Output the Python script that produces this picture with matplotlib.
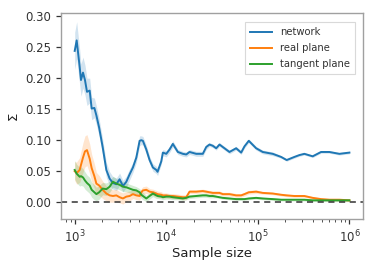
import numpy as np
import matplotlib
matplotlib.use("Agg")
import matplotlib.pyplot as plt

sample_size = [1000, 1051, 1134, 1171, 1232, 1295, 1362, 1458, 1532, 1640,
               1725, 1850, 2020, 2216, 2408, 2617, 2850, 3095, 3363, 3663,
               3980, 4324, 4709, 5114, 5338, 5556, 6051, 6574, 7143, 7781,
               8037, 8822, 9182, 10000, 10860, 11800, 13380, 15170, 16520, 17950,
               21230, 25060, 27300, 29650, 32210, 35090, 38120, 41420, 48980, 57940,
               65700, 71400, 79600, 95800, 113000, 145400, 179500, 206500, 250600, 284200,
               322200, 396900, 490000, 603700, 776200, 1000000]

network = [0.244, 0.261, 0.218, 0.197, 0.209, 0.197, 0.178, 0.180, 0.151, 0.152,
           0.140, 0.120, 0.089, 0.052, 0.038, 0.031, 0.029, 0.037, 0.026, 0.033,
           0.045, 0.056, 0.072, 0.099, 0.100, 0.099, 0.085, 0.068, 0.056, 0.052,
           0.049, 0.066, 0.080, 0.078, 0.085, 0.094, 0.081, 0.078, 0.077, 0.081,
           0.078, 0.078, 0.089, 0.093, 0.091, 0.087, 0.093, 0.089, 0.081, 0.087,
           0.080, 0.090, 0.099, 0.087, 0.081, 0.078, 0.073, 0.068, 0.073, 0.076,
           0.078, 0.074, 0.081, 0.081, 0.078, 0.080]

real_plane = [0.050, 0.047, 0.052, 0.060, 0.072, 0.082, 0.084, 0.070, 0.055, 0.042,
              0.030, 0.027, 0.020, 0.014, 0.011, 0.010, 0.011, 0.008, 0.006, 0.009,
              0.010, 0.013, 0.011, 0.010, 0.016, 0.019, 0.020, 0.017, 0.016, 0.014,
              0.013, 0.012, 0.011, 0.011, 0.010, 0.010, 0.009, 0.008, 0.008, 0.017,
              0.017, 0.018, 0.017, 0.016, 0.015, 0.015, 0.015, 0.013, 0.013, 0.011,
              0.011, 0.013, 0.016, 0.017, 0.015, 0.014, 0.012, 0.011, 0.010, 0.010,
              0.010, 0.007, 0.005, 0.004, 0.004, 0.003]

tangent_plane = [0.052, 0.046, 0.041, 0.042, 0.040, 0.035, 0.031, 0.027, 0.020, 0.016,
                 0.013, 0.016, 0.022, 0.021, 0.025, 0.033, 0.030, 0.028, 0.025, 0.024,
                 0.022, 0.020, 0.019, 0.016, 0.012, 0.010, 0.006, 0.010, 0.014, 0.011,
                 0.010, 0.009, 0.008, 0.009, 0.009, 0.008, 0.007, 0.006, 0.007, 0.009,
                 0.010, 0.011, 0.011, 0.010, 0.010, 0.009, 0.008, 0.007, 0.006, 0.005,
                 0.005, 0.005, 0.006, 0.007, 0.006, 0.005, 0.004, 0.004, 0.004, 0.004,
                 0.004, 0.003, 0.003, 0.003, 0.003, 0.003]

network_err = [0.030, 0.030, 0.028, 0.026, 0.025, 0.024, 0.022, 0.020, 0.018, 0.016,
               0.015, 0.014, 0.013, 0.012, 0.011, 0.010, 0.010, 0.010, 0.009, 0.009,
               0.009, 0.008, 0.008, 0.008, 0.007, 0.007, 0.007, 0.006, 0.006, 0.006,
               0.006, 0.005, 0.005, 0.005, 0.005, 0.005, 0.004, 0.004, 0.004, 0.004,
               0.004, 0.004, 0.004, 0.003, 0.003, 0.003, 0.003, 0.003, 0.003, 0.003,
               0.003, 0.003, 0.003, 0.003, 0.003, 0.003, 0.002, 0.002, 0.002, 0.002,
               0.002, 0.002, 0.002, 0.002, 0.002, 0.002]

real_err = [0.015, 0.018, 0.020, 0.022, 0.024, 0.025, 0.025, 0.024, 0.022, 0.020,
            0.018, 0.016, 0.014, 0.012, 0.011, 0.010, 0.010, 0.009, 0.009, 0.008,
            0.008, 0.007, 0.007, 0.007, 0.006, 0.006, 0.006, 0.005, 0.005, 0.005,
            0.005, 0.005, 0.004, 0.004, 0.004, 0.004, 0.004, 0.004, 0.004, 0.003,
            0.003, 0.003, 0.003, 0.003, 0.003, 0.003, 0.003, 0.003, 0.003, 0.003,
            0.003, 0.003, 0.003, 0.003, 0.002, 0.002, 0.002, 0.002, 0.002, 0.002,
            0.002, 0.002, 0.002, 0.002, 0.002, 0.002]

tangent_err = [0.015, 0.015, 0.015, 0.015, 0.014, 0.014, 0.013, 0.013, 0.012, 0.012,
               0.011, 0.011, 0.010, 0.010, 0.009, 0.009, 0.008, 0.008, 0.008, 0.007,
               0.007, 0.007, 0.006, 0.006, 0.006, 0.006, 0.005, 0.005, 0.005, 0.005,
               0.004, 0.004, 0.004, 0.004, 0.004, 0.004, 0.003, 0.003, 0.003, 0.003,
               0.003, 0.003, 0.003, 0.003, 0.003, 0.002, 0.002, 0.002, 0.002, 0.002,
               0.002, 0.002, 0.002, 0.002, 0.002, 0.002, 0.002, 0.002, 0.002, 0.002,
               0.002, 0.002, 0.002, 0.002, 0.002, 0.002]

labels = ["network", "real plane", "tangent plane"]
colors = ["#1f77b4", "#ff7f0e", "#2ca02c"]

fig = plt.figure(figsize=(3.74, 2.67), dpi=100)
ax = fig.add_axes([0.163, 0.180, 0.808, 0.771])

x = np.array(sample_size)
for vals, errs, lab, col in zip([network, real_plane, tangent_plane],
                                [network_err, real_err, tangent_err], labels, colors):
    v = np.array(vals)
    e = np.array(errs)
    ax.fill_between(x, v - e, v + e, color=col, alpha=0.2, linewidth=0)
    ax.plot(x, v, color=col, lw=1.4, label=lab)

ax.axhline(0, color="#333333", ls="--", lw=1.1, dashes=(4, 3))
ax.set_xscale("log")
ax.set_ylim(-0.027, 0.305)
ax.set_yticks([0.0, 0.05, 0.10, 0.15, 0.20, 0.25, 0.30])
ax.set_yticklabels(["0.00", "0.05", "0.10", "0.15", "0.20", "0.25", "0.30"])

for s in ax.spines.values():
    s.set_color("#a0a0a0")
    s.set_linewidth(1.0)
ax.tick_params(axis="both", which="major", labelsize=8.5, colors="#333333", length=3.5, width=0.9)
ax.tick_params(axis="x", which="minor", length=2, width=0.6, colors="#333333")
ax.set_xlabel("Sample size", fontsize=9.5, color="#222222", labelpad=1)
ax.set_ylabel("Σ", fontsize=9.5, color="#222222", labelpad=4)

leg = ax.legend(loc="upper right", fontsize=7.2, frameon=True, fancybox=False,
                borderpad=0.5, handlelength=2.2, labelspacing=0.6,
                bbox_to_anchor=(0.99, 0.98))
leg.get_frame().set_edgecolor("#d0d0d0")
leg.get_frame().set_linewidth(0.8)
for t in leg.get_texts():
    t.set_color("#333333")

fig.savefig("out.png", dpi=100)
